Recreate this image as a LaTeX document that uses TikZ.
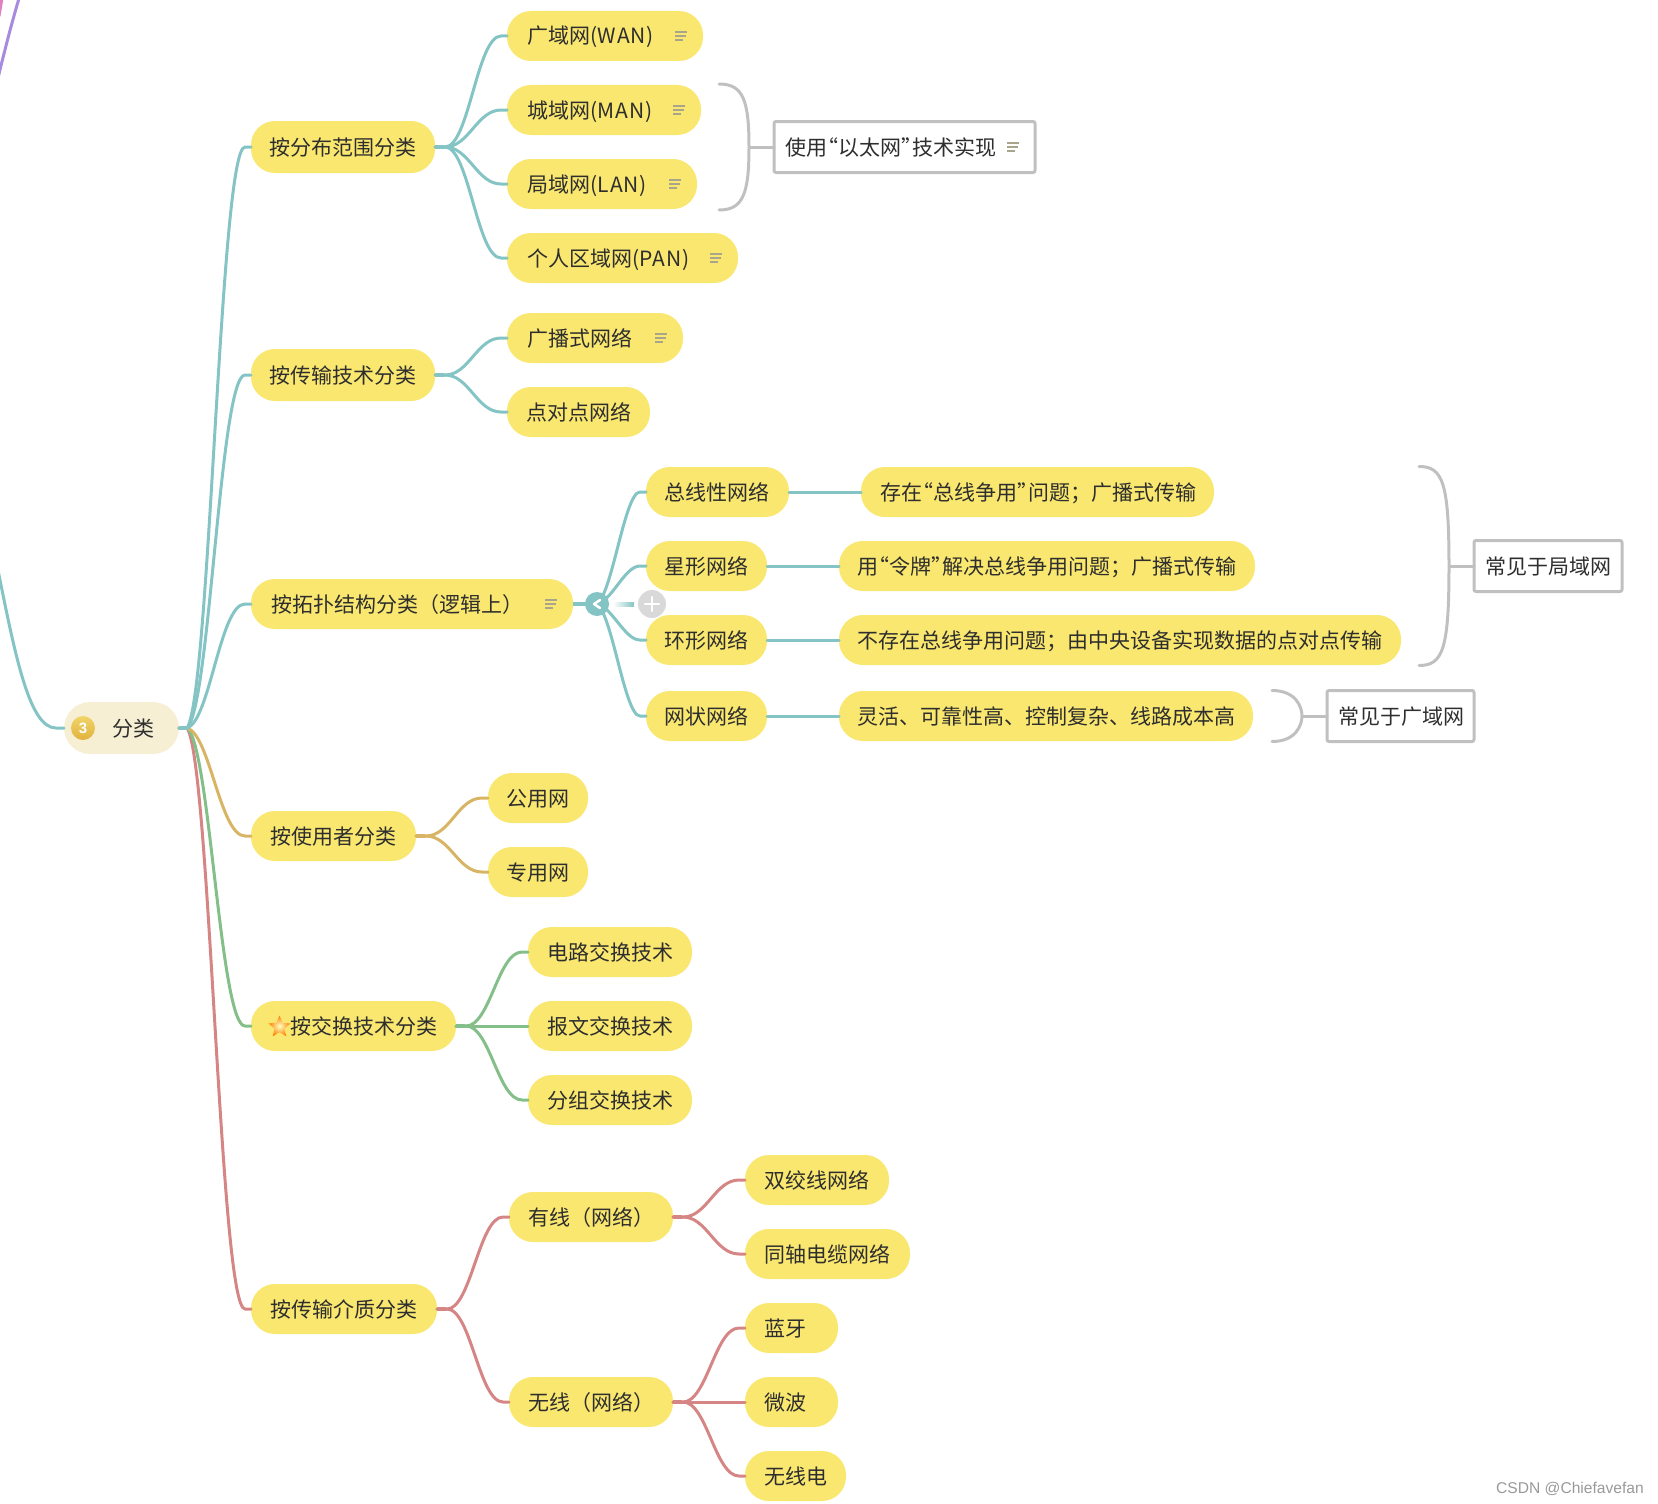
\documentclass[tikz,border=0pt]{standalone}
\usepackage{fontspec}
\setmainfont{Noto Sans CJK SC}
\newfontfamily\markfont{Liberation Sans}
\usetikzlibrary{calc,shapes.geometric}
\definecolor{topicyellow}{HTML}{F9E76F}
\definecolor{rootcream}{HTML}{F6EFD4}
\definecolor{inkgrey}{HTML}{2E2E2E}
\definecolor{linkteal}{HTML}{84C4C4}
\definecolor{linkgold}{HTML}{D8B565}
\definecolor{linkgreen}{HTML}{84BF8A}
\definecolor{linkred}{HTML}{D68585}
\definecolor{bracegrey}{HTML}{C0C0C0}
\definecolor{noteicon}{HTML}{A9A58C}
\definecolor{linkpurple}{HTML}{A78BE0}
\definecolor{linkpink}{HTML}{E080C0}
\definecolor{badgetop}{HTML}{F0D468}
\definecolor{badgelow}{HTML}{E2B23E}
\newcommand{\openquo}{\makebox[11pt][r]{“}}
\newcommand{\closequo}{\makebox[11pt][l]{”}}
\newcommand{\widelatin}[1]{{\addfontfeature{LetterSpace=4}#1}}
\tikzset{
  topic/.style={fill=topicyellow,rounded corners=24pt,anchor=west,minimum height=50pt,outer sep=0pt,
    inner xsep=18pt,inner ysep=0pt,text width=#1pt-36pt,align=left,text height=16pt,text depth=0pt,
    text=inkgrey,font=\fontsize{21}{25}\selectfont},
  remark/.style={draw=bracegrey,line width=3pt,fill=white,rounded corners=2pt,anchor=west,minimum height=51pt,
    outer sep=0pt,inner xsep=11pt,inner ysep=0pt,text width=#1pt-22pt,align=left,text height=16pt,text depth=0pt,
    text=inkgrey,font=\fontsize{21}{25}\selectfont},
  link/.style={line width=3pt,to path={-- ++(10,0) .. controls +(#1,0) and +(-#1,0) .. ($(\tikztotarget)+(-6,0)$) -- (\tikztotarget)}},
  brace/.style={draw=bracegrey,line width=3pt},
  noteline/.style={draw=noteicon,line width=1.5pt,line cap=butt}
}
\begin{document}
\begin{tikzpicture}[x=1pt,y=-1pt,line cap=round,line join=round]
  \clip (0,0) rectangle (1658,1504);
  % topics
  \node[topic=115,fill=rootcream,rounded corners=26pt,minimum height=52pt] (root) at (64,728) {\hspace*{30pt}分类};
  \foreach \name/\y/\txt in {distrib/147/按分布范围分类,transmit/375/按传输技术分类}{
    \node[topic=184,minimum height=52pt] (\name) at (251,\y) {\txt};
  }
  \foreach \name/\x/\y/\w/\txt in {
    topo/251/604/322/{\hspace*{2pt}按拓扑结构分类（逻辑上）}, users/251/836/165/{\hspace*{1pt}按使用者分类},
    switching/251/1026/205/{\hspace*{21pt}按交换技术分类}, media/251/1309/186/{\hspace*{1pt}按传输介质分类},
    wan/507/36/196/{\hspace*{2pt}广域网\widelatin{(WAN)}}, man/507/110/194/{\hspace*{2pt}城域网\widelatin{(MAN)}},
    lan/507/184/190/{\hspace*{2pt}局域网\widelatin{(LAN)}}, pan/507/258/231/{\hspace*{2pt}个人区域网\widelatin{(PAN)}},
    bcast/507/338/176/{\hspace*{2pt}广播式网络}, ptp/507/412/143/{\hspace*{1pt}点对点网络},
    bus/646/492/143/总线性网络, star/646/566/121/星形网络, ring/646/640/121/环形网络, mesh/646/716/121/网状网络,
    busnote/861/492/353/{\hspace*{1pt}存在\openquo 总线争用\closequo 问题；广播式传输},
    starnote/839/566/416/{用\openquo 令牌\closequo 解决总线争用问题；广播式传输},
    ringnote/839/640/562/{不存在总线争用问题；由中央设备实现数据的点对点传输},
    meshnote/839/716/414/{灵活、可靠性高、控制复杂、线路成本高},
    public/488/798/100/公用网, private/488/872/100/专用网,
    circuit/528/952/164/{\hspace*{1pt}电路交换技术}, message/528/1026/164/{\hspace*{1pt}报文交换技术}, packet/528/1100/164/{\hspace*{1pt}分组交换技术},
    wired/509/1217/164/{\hspace*{1pt}有线（网络）}, wireless/509/1402/164/{\hspace*{1pt}无线（网络）},
    twisted/745/1180/144/{\hspace*{1pt}双绞线网络}, coax/745/1254/165/{\hspace*{1pt}同轴电缆网络},
    bluetooth/745/1328/93/{\hspace*{1pt}蓝牙}, microwave/745/1402/93/{\hspace*{1pt}微波}, radio/745/1476/101/{\hspace*{1pt}无线电}}{
    \node[topic=\w] (\name) at (\x,\y) {\txt};
  }
  % boxed remarks
  \node[remark=261] (ether) at (774,147) {使用\openquo 以太网\closequo 技术实现};
  \node[remark=148] (lanbox) at (1474,566) {常见于局域网};
  \node[remark=147] (wanbox) at (1327,716) {常见于广域网};
  % branches
  \foreach \col/\to/\dy in {linkred/media/32,linkgreen/switching/16,linkgold/users/6,
    linkteal/distrib/-32,linkteal/transmit/-20,linkteal/topo/-7}{
    \draw[draw=\col,line width=3pt] (root.east) -- ++(8,0) .. controls +(23,\dy) and ($(\to.west)+(-31,0)$) .. ($(\to.west)+(-6,0)$) -- (\to.west);
  }
  \foreach \col/\from/\to in {
    linkteal/distrib/wan, linkteal/distrib/man, linkteal/distrib/lan, linkteal/distrib/pan,
    linkteal/transmit/bcast, linkteal/transmit/ptp,
    linkgold/users/public, linkgold/users/private,
    linkgreen/switching/circuit, linkgreen/switching/message, linkgreen/switching/packet,
    linkred/media/wired, linkred/media/wireless,
    linkred/wired/twisted, linkred/wired/coax,
    linkred/wireless/bluetooth, linkred/wireless/microwave, linkred/wireless/radio,
    linkteal/bus/busnote, linkteal/star/starnote, linkteal/ring/ringnote, linkteal/mesh/meshnote}{
    \draw[draw=\col,link=24] (\from.east) to (\to.west);
  }
  \coordinate (hub) at (585,604);
  \foreach \to in {bus,star,ring,mesh}{\draw[draw=linkteal,link=16] (hub) to (\to.west);}
  % thicker stubs at the parents
  \foreach \col/\from in {linkteal/root,linkteal/distrib,linkteal/transmit,linkteal/topo,
    linkgold/users,linkgreen/switching,linkred/media,linkred/wired,linkred/wireless}{
    \draw[draw=\col,line width=4pt,line cap=butt] (\from.east) -- ++(9,0);
  }
  \draw[linkteal,line width=4pt,line cap=butt] (topo.east) -- (hub);
  % collapse knob and plus
  \node[circle,fill=linkteal,minimum size=24pt,inner sep=0pt] (knob) at (597,604) {};
  \draw[white,line width=2.5pt] ($(knob)+(3,-4)$) -- ($(knob)+(-3,0)$) -- ($(knob)+(3,4)$);
  \node[circle,fill=black!15,minimum size=28pt,inner sep=0pt] (plusbtn) at (652,604) {};
  \draw[white,line width=2.5pt] ($(plusbtn)+(-7,0)$) -- ($(plusbtn)+(7,0)$) ($(plusbtn)+(0,-7)$) -- ($(plusbtn)+(0,7)$);
  \shade[left color=white,right color=linkteal] ($(knob.east)+(4,-2)$) rectangle ($(plusbtn.west)+(-4,2)$);
  % braces
  \foreach \bx/\h/\k in {ether/63/47,lanbox/99.5/83,wanbox/25.5/9}{
    \coordinate (tip) at ($(\bx.west)+(-25,0)$);
    \draw[brace] ($(tip)+(-30,-\h)$) .. controls +(24,0) and ($(tip)+(0,-\k)$) .. (tip)
      .. controls ($(tip)+(0,\k)$) and ($(tip)+(-6,\h)$) .. ($(tip)+(-30,\h)$);
    \draw[brace] (tip) -- (\bx.west);
  }
  % note marks
  \foreach \name in {wan,man,lan,pan,bcast,topo,ether}{
    \draw[noteline] ($(\name.east)+(-28,-4)$) -- ++(12,0);
    \draw[noteline] ($(\name.east)+(-28,0)$) -- ++(11,0);
    \draw[noteline] ($(\name.east)+(-28,4)$) -- ++(8,0);
  }
  % badge and star
  \node[circle,top color=badgetop,bottom color=badgelow,minimum size=24pt,inner sep=0pt,text=white,font=\markfont\bfseries\fontsize{15}{15}\selectfont] (badge) at (83,728) {3};
  \node[star,star points=5,star point ratio=2.2,inner color=yellow!25!white,outer color=orange,minimum size=23pt,inner sep=0pt] (starmark) at (279.5,1027) {};
  % cut off branches of the wider map
  \coordinate (offteal) at (-2,570);
  \draw[linkteal,line width=3pt] (root.west) -- ++(-8,0) .. controls +(-26,0) and (16,660) .. (offteal);
  \coordinate (offpurple) at (20,-5);
  \coordinate (offpurpleend) at (-2,78);
  \draw[linkpurple,line width=3pt] (offpurple) .. controls (12,22) and (6,45) .. (offpurpleend);
  \coordinate (offpink) at (2,-2);
  \coordinate (offpinkend) at (-1,16);
  \draw[linkpink,line width=3pt] (offpink) -- (offpinkend);
  % watermark
  \node[anchor=east,text=black!40,font=\markfont\fontsize{15.6}{18}\selectfont,inner sep=0pt] (stamp) at (1644,1489) {CSDN @Chiefavefan};
\end{tikzpicture}
\end{document}
